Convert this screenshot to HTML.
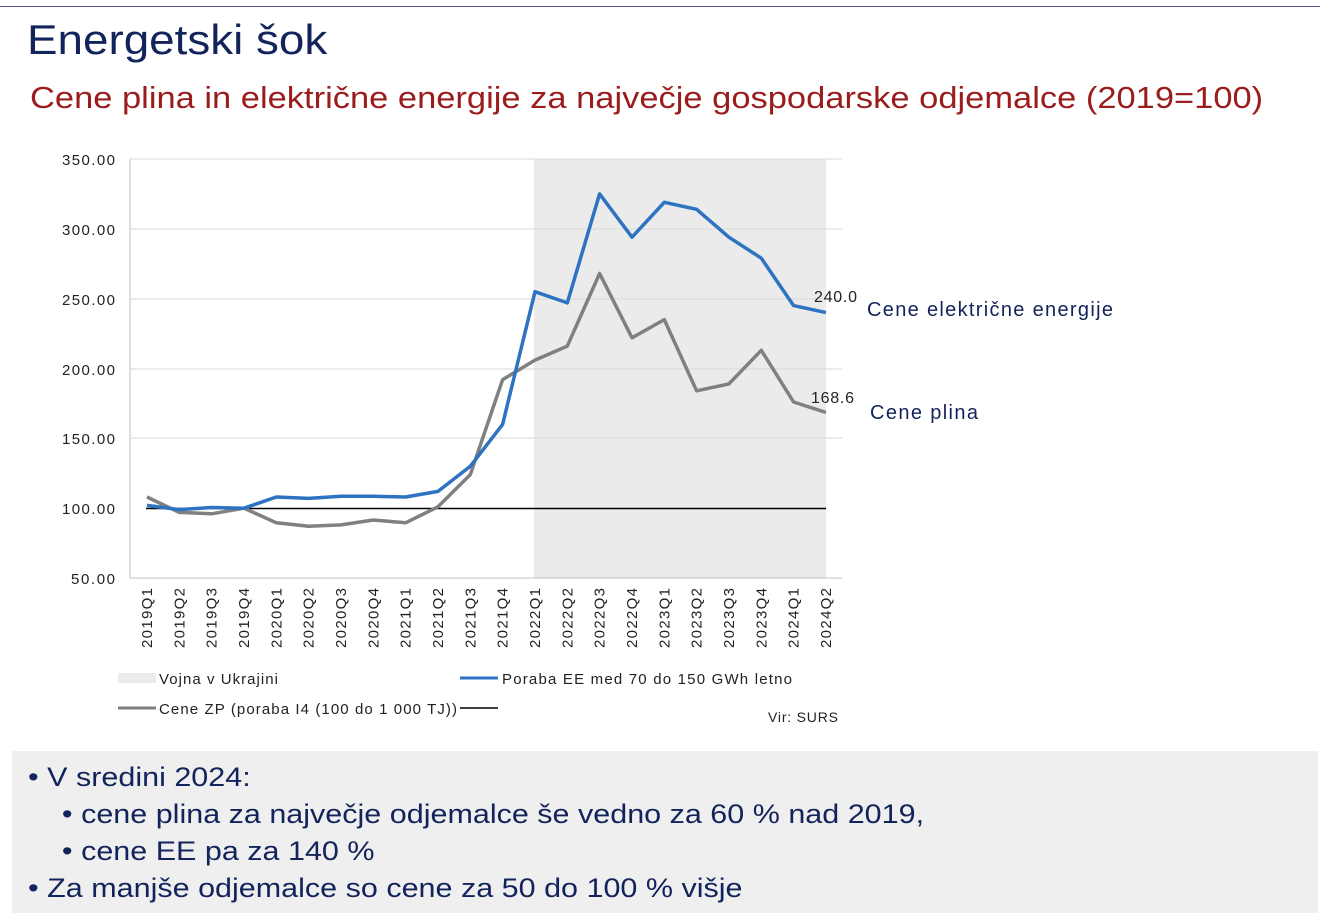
<!DOCTYPE html>
<html><head><meta charset="utf-8"><style>
body{margin:0;width:1320px;height:920px;background:#fff;overflow:hidden;font-family:"Liberation Sans",Arial,sans-serif;position:relative}
.t{position:absolute;white-space:nowrap;transform-origin:0 0}
</style></head><body>
<div style="position:absolute;left:0;top:6px;width:1320px;height:1px;background:#5b4b8a"></div>
<div class="t" style="left:27px;top:16px;font-size:42px;color:#13235b;transform:scaleX(1.09)">Energetski šok</div>
<div class="t" style="left:30px;top:80px;font-size:31px;color:#9b1c1c;transform:scaleX(1.112)">Cene plina in električne energije za največje gospodarske odjemalce (2019=100)</div>
<svg style="position:absolute;left:0;top:0" width="1320" height="740" font-family="Liberation Sans, Arial, sans-serif">
<rect x="534" y="159" width="292" height="419" fill="#ebebeb"/>
<g stroke="#d9d9d9" stroke-width="1">
<line x1="130" y1="159" x2="842" y2="159"/><line x1="130" y1="229" x2="842" y2="229"/><line x1="130" y1="299" x2="842" y2="299"/><line x1="130" y1="369" x2="842" y2="369"/><line x1="130" y1="438" x2="842" y2="438"/>
</g>
<line x1="130" y1="159" x2="130" y2="578" stroke="#bfbfbf"/>
<line x1="130" y1="578" x2="842" y2="578" stroke="#bfbfbf"/>
<line x1="146" y1="508.5" x2="826" y2="508.5" stroke="#000" stroke-width="1.5"/>
<g font-size="15" fill="#222">
<text x="62" y="165" textLength="53">350.00</text><text x="62" y="235" textLength="53">300.00</text><text x="62" y="305" textLength="53">250.00</text><text x="62" y="375" textLength="53">200.00</text><text x="62" y="444" textLength="53">150.00</text><text x="62" y="514" textLength="53">100.00</text><text x="71" y="584" textLength="44">50.00</text>
</g>
<g id="xl" font-size="15" fill="#222" text-anchor="end"></g>
<polyline id="g" fill="none" stroke="#808080" stroke-width="3.5" stroke-linejoin="round"/>
<polyline id="b" fill="none" stroke="#2e72c2" stroke-width="3.5" stroke-linejoin="round"/>
<text x="814" y="302" font-size="16" fill="#222" textLength="43">240.0</text>
<text x="811" y="403" font-size="16" fill="#222" textLength="43">168.6</text>
<text x="867" y="316" font-size="20" fill="#13235b" textLength="246">Cene električne energije</text>
<text x="870" y="419" font-size="20" fill="#13235b" textLength="108">Cene plina</text>
<rect x="118" y="673" width="38" height="10" fill="#ebebeb"/>
<text x="159" y="684" font-size="15" fill="#222" textLength="119">Vojna v Ukrajini</text>
<line x1="460" y1="678" x2="498" y2="678" stroke="#2e72c2" stroke-width="3"/>
<text x="502" y="684" font-size="15" fill="#222" textLength="290">Poraba EE med 70 do 150 GWh letno</text>
<line x1="118" y1="708" x2="156" y2="708" stroke="#808080" stroke-width="3"/>
<text x="159" y="714" font-size="15" fill="#222" textLength="298">Cene ZP (poraba I4 (100 do 1 000 TJ))</text>
<line x1="460" y1="708" x2="498" y2="708" stroke="#000" stroke-width="1.5"/>
<text x="768" y="722" font-size="14" fill="#222" textLength="70">Vir: SURS</text>
</svg>
<div style="position:absolute;left:12px;top:751px;width:1306px;height:162px;background:#efefef"></div>
<div class="t" style="left:28px;top:759px;font-size:27px;color:#13235b;line-height:37px;transform:scaleX(1.13)">
• V sredini 2024:<br>
&nbsp;&nbsp;&nbsp;&nbsp;• cene plina za največje odjemalce še vedno za 60 % nad 2019,<br>
&nbsp;&nbsp;&nbsp;&nbsp;• cene EE pa za 140 %<br>
• Za manjše odjemalce so cene za 50 do 100 % višje</div>
<script>
var b=[102,99,100.5,100,108,107,108.5,108.5,108,112,130,160,255,247,325,294,319,314,294,279,245,240];
var g=[108,97,96,100,89.5,87,88,91.5,89.5,101,124,192,206,216,268,222,235,184,189,213,176,168.6];
var lab=[];for(var y=2019;y<=2024;y++)for(var q=1;q<=4;q++)lab.push(y+"Q"+q);
function X(i){return 147+i*32.33}function Y(v){return 578-(v-50)*1.3967}
function pts(a){return a.map(function(v,i){return X(i).toFixed(1)+","+Y(v).toFixed(1)}).join(" ")}
document.getElementById("b").setAttribute("points",pts(b));
document.getElementById("g").setAttribute("points",pts(g));
var s="";for(var i=0;i<22;i++){var x=X(i)+5;s+='<text transform="translate('+x+',588) rotate(-90)" textLength="60">'+lab[i]+'</text>';}
document.getElementById("xl").innerHTML=s;
</script>
</body></html>
